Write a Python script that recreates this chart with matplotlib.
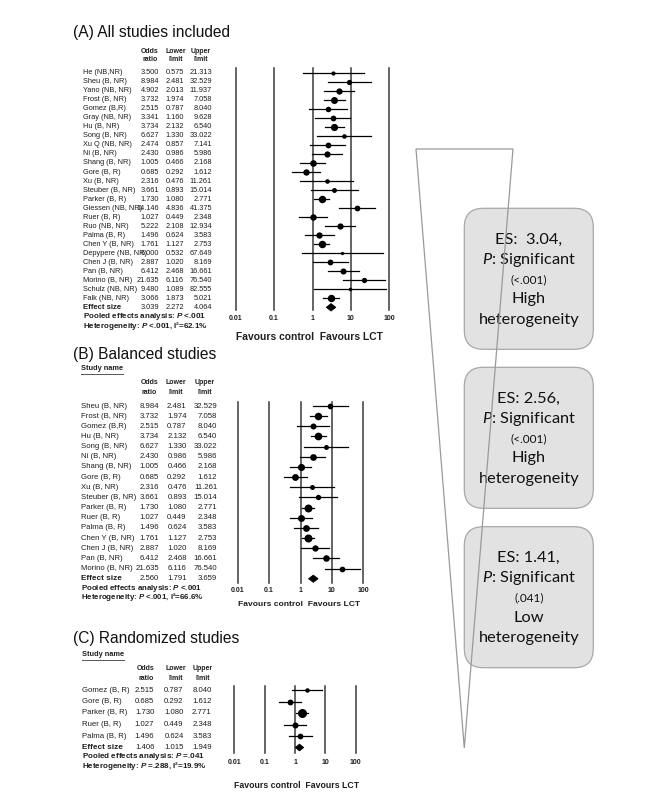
import numpy as np
import matplotlib
matplotlib.use("Agg")
import matplotlib.pyplot as plt
from matplotlib.patches import Polygon, FancyBboxPatch

plt.rcParams['font.family'] = ['Liberation Sans', 'DejaVu Sans']
plt.rcParams['mathtext.fontset'] = 'custom'
plt.rcParams['mathtext.rm'] = 'Liberation Sans'
plt.rcParams['mathtext.it'] = 'Lato:italic'
plt.rcParams['mathtext.bf'] = 'Liberation Sans:bold'
plt.rcParams['mathtext.bfit'] = 'Liberation Sans:italic:bold'

# ---------------- data ----------------
A_names = ["He (NB,NR)", "Sheu (B, NR)", "Yano (NB, NR)", "Frost (B, NR)", "Gomez (B,R)",
           "Gray (NB, NR)", "Hu (B, NR)", "Song (B, NR)", "Xu Q (NB, NR)", "Ni (B, NR)",
           "Shang (B, NR)", "Gore (B, R)", "Xu (B, NR)", "Steuber (B, NR)", "Parker (B, R)",
           "Giessen (NB, NR)", "Ruer (B, R)", "Ruo (NB, NR)", "Palma (B, R)", "Chen Y (B, NR)",
           "Depypere (NB, NR)", "Chen J (B, NR)", "Pan (B, NR)", "Morino (B, NR)",
           "Schulz (NB, NR)", "Falk (NB, NR)"]
A_or = [3.500, 8.984, 4.902, 3.732, 2.515, 3.341, 3.734, 6.627, 2.474, 2.430, 1.005, 0.685,
        2.316, 3.661, 1.730, 14.146, 1.027, 5.222, 1.496, 1.761, 6.000, 2.887, 6.412, 21.635,
        9.480, 3.066]
A_lo = [0.575, 2.481, 2.013, 1.974, 0.787, 1.160, 2.132, 1.330, 0.857, 0.986, 0.466, 0.292,
        0.476, 0.893, 1.080, 4.836, 0.449, 2.108, 0.624, 1.127, 0.532, 1.020, 2.468, 6.116,
        1.089, 1.873]
A_hi = [21.313, 32.529, 11.937, 7.058, 8.040, 9.628, 6.540, 33.022, 7.141, 5.986, 2.168, 1.612,
        11.261, 15.014, 2.771, 41.375, 2.348, 12.934, 3.583, 2.753, 67.649, 8.169, 16.661,
        76.540, 82.555, 5.021]
A_es = [3.039, 2.272, 4.064]
A_pool = "<.001"
A_het = ["<.001", "62.1%"]

B_names = ["Sheu (B, NR)", "Frost (B, NR)", "Gomez (B,R)", "Hu (B, NR)", "Song (B, NR)",
           "Ni (B, NR)", "Shang (B, NR)", "Gore (B, R)", "Xu (B, NR)", "Steuber (B, NR)",
           "Parker (B, R)", "Ruer (B, R)", "Palma (B, R)", "Chen Y (B, NR)", "Chen J (B, NR)",
           "Pan (B, NR)", "Morino (B, NR)"]
B_or = [8.984, 3.732, 2.515, 3.734, 6.627, 2.430, 1.005, 0.685, 2.316, 3.661, 1.730, 1.027,
        1.496, 1.761, 2.887, 6.412, 21.635]
B_lo = [2.481, 1.974, 0.787, 2.132, 1.330, 0.986, 0.466, 0.292, 0.476, 0.893, 1.080, 0.449,
        0.624, 1.127, 1.020, 2.468, 6.116]
B_hi = [32.529, 7.058, 8.040, 6.540, 33.022, 5.986, 2.168, 1.612, 11.261, 15.014, 2.771, 2.348,
        3.583, 2.753, 8.169, 16.661, 76.540]
B_es = [2.560, 1.791, 3.659]
B_pool = "<.001"
B_het = ["<.001", "66.6%"]

C_names = ["Gomez (B, R)", "Gore (B, R)", "Parker (B, R)", "Ruer (B, R)", "Palma (B, R)"]
C_or = [2.515, 0.685, 1.730, 1.027, 1.496]
C_lo = [0.787, 0.292, 1.080, 0.449, 0.624]
C_hi = [8.040, 1.612, 2.771, 2.348, 3.583]
C_es = [1.406, 1.015, 1.949]
C_pool = "=.041"
C_het = ["=.288", "19.9%"]

tick_vals = [0.01, 0.1, 1, 10, 100]
tick_labels = ["0.01", "0.1", "1", "10", "100"]

box_es = ["ES:  3.04,", "ES: 2.56,", "ES: 1.41,"]
box_p = ["(<.001)", "(<.001)", "(.041)"]
box_het = ["High", "High", "Low"]

# ---------------- helpers ----------------
W, H = 666, 799
fig = plt.figure(figsize=(W / 100, H / 100), dpi=100)
renderer = fig.canvas.get_renderer()
TXT = '#1e1e1e'


def fx(x):
    return x / W


def fy(y):
    return 1 - y / H


def re_weights(orv, lo, hi):
    y = np.log(orv)
    se = (np.log(hi) - np.log(lo)) / (2 * 1.959964)
    v = se ** 2
    w = 1 / v
    ybar = np.sum(w * y) / np.sum(w)
    Q = np.sum(w * (y - ybar) ** 2)
    C = np.sum(w) - np.sum(w ** 2) / np.sum(w)
    tau2 = max(0.0, (Q - (len(y) - 1)) / C)
    return 1 / (v + tau2)


ov = fig.add_axes([0, 0, 1, 1], zorder=0)
ov.set_xlim(0, W)
ov.set_ylim(H, 0)
ov.axis('off')


def panel(title, names, orv, lo, hi, es, pool, het, g):
    orv, lo, hi = map(np.asarray, (orv, lo, hi))
    n = len(names)
    fig.text(fx(73), fy(g['title_y']), title, fontsize=11.2, ha='left', va='center', color='#111111')
    if g.get('study_y'):
        t = fig.text(fx(g['name_x']), fy(g['study_y']), "Study name", fontsize=5.3,
                     fontweight='bold', ha='left', va='center', color=TXT)
        bb = t.get_window_extent(renderer)
        ov.plot([bb.x0, bb.x1], [H - bb.y0 + 1.2, H - bb.y0 + 1.2], color='#555555', lw=0.7)
    for cx, (h1, h2) in zip(g['hdr_cx'], [("Odds", "ratio"), ("Lower", "limit"), ("Upper", "limit")]):
        fig.text(fx(cx), fy(g['hdr_y'][0]), h1, fontsize=5.0, fontweight='bold', ha='center', va='center', color=TXT)
        fig.text(fx(cx), fy(g['hdr_y'][1]), h2, fontsize=5.0, fontweight='bold', ha='center', va='center', color=TXT)
    fs = g['row_fs']
    for i in range(n):
        y = g['r0'] + i * g['dr']
        fig.text(fx(g['name_x']), fy(y), names[i], fontsize=fs, ha='left', va='center', color=TXT)
        for xr, val in zip(g['col_right'], (orv[i], lo[i], hi[i])):
            fig.text(fx(xr), fy(y), f"{val:.3f}", fontsize=fs, ha='right', va='center', color=TXT)
    y = g['r0'] + n * g['dr']
    fig.text(fx(g['name_x']), fy(y), "Effect size", fontsize=fs + 0.3, fontweight='bold', ha='left', va='center', color=TXT)
    for xr, val in zip(g['col_right'], es):
        fig.text(fx(xr), fy(y), f"{val:.3f}", fontsize=fs, ha='right', va='center', color=TXT)
    fig.text(fx(g['name_x']), fy(g['pool_y']), r"Pooled effects analysis: $\mathbfit{P}$ " + pool,
             fontsize=g['sum_fs'], fontweight='bold', ha='left', va='center', color=TXT)
    fig.text(fx(g['name_x']), fy(g['het_y']),
             r"Heterogeneity: $\mathbfit{P}$ " + het[0] + ", I\u00b2=" + het[1],
             fontsize=g['sum_fs'], fontweight='bold', ha='left', va='center', color=TXT)

    # forest axes
    ax = fig.add_axes([fx(g['x001']), fy(g['line_bot']), fx(g['x100']) - fx(g['x001']),
                       (g['line_bot'] - g['line_top']) / H])
    ax.set_xscale('log')
    ax.set_xlim(0.01, 100)
    r = lambda ypx: (ypx - g['r0']) / g['dr']
    ax.set_ylim(r(g['line_bot']), r(g['line_top']))
    ax.axis('off')
    for v in tick_vals:
        ax.axvline(v, color='#3a3a3a', lw=1.1, clip_on=False, zorder=1)
    for v, lab in zip(tick_vals, tick_labels):
        ax.text(v, r(g['tick_y']), lab, fontsize=5.0, fontweight='bold', ha='center', va='center',
                color=TXT, clip_on=False)
    ax.text(0.01, r(g['fav_y']), "Favours control  Favours LCT", fontsize=g['fav_fs'],
            fontweight='bold', ha='left', va='center', color=TXT, clip_on=False)
    w = re_weights(orv, lo, hi)
    d = g['dmax'] * np.sqrt(w / w.max())
    for i in range(n):
        ax.plot([lo[i], hi[i]], [i, i], color='black', lw=0.9, clip_on=False, zorder=3)
        ax.plot(orv[i], i, 'o', ms=d[i] * 0.72, color='black', mec='black', mew=0, clip_on=False, zorder=4)
    h = g['dh']
    ax.add_patch(Polygon([(es[1], n), (es[0], n - h), (es[2], n), (es[0], n + h)], closed=True,
                         fc='black', ec='black', lw=0.5, clip_on=False, zorder=4))


panel("(A) All studies included", A_names, A_or, A_lo, A_hi, A_es, A_pool, A_het,
      dict(title_y=33, study_y=None, hdr_y=(51.7, 59.3), r0=72.8, dr=9.02, name_x=83,
           col_right=(159, 184, 212), hdr_cx=(150, 175.5, 201), pool_y=316.7, het_y=326,
           x001=235.7, x100=389.3, line_top=68.3, line_bot=310, tick_y=318.3, fav_y=336.7,
           row_fs=5.3, sum_fs=5.8, fav_fs=7.4, dmax=7.5, dh=0.42))

panel("(B) Balanced studies", B_names, B_or, B_lo, B_hi, B_es, B_pool, B_het,
      dict(title_y=355, study_y=369, hdr_y=(383, 392), r0=406, dr=10.16, name_x=80.7,
           col_right=(159, 186.7, 217.3), hdr_cx=(149.5, 176, 204.5), pool_y=588.3, het_y=596.9,
           x001=237.7, x100=363.3, line_top=401.7, line_bot=583.3, tick_y=590.7, fav_y=605,
           row_fs=5.6, sum_fs=5.7, fav_fs=6.1, dmax=8, dh=0.36))

panel("(C) Randomized studies", C_names, C_or, C_lo, C_hi, C_es, C_pool, C_het,
      dict(title_y=638, study_y=655, hdr_y=(669, 678), r0=690, dr=11.5, name_x=81.7,
           col_right=(154.3, 183.7, 211.7), hdr_cx=(146, 175.8, 203), pool_y=757, het_y=766,
           x001=234.3, x100=355.7, line_top=686, line_bot=753, tick_y=763, fav_y=786,
           row_fs=5.6, sum_fs=5.8, fav_fs=6.3, dmax=9, dh=0.3))

# ---------------- right side summary ----------------
box_tops = [208.3, 367.3, 526.7]
box_h = 141
box_x0, box_x1 = 464.3, 593.3
cx = (box_x0 + box_x1) / 2
for k, top in enumerate(box_tops):
    ov.add_patch(FancyBboxPatch((box_x0, top), box_x1 - box_x0, box_h,
                                boxstyle="round,pad=0,rounding_size=19",
                                fc='#e2e2e2', ec='#a8a8a8', lw=0.9, zorder=2))
    offs = [31.5, 51.5, 71.5, 91, 111.5]
    ov.text(cx, top + offs[0], box_es[k], fontsize=11.8, family='Lato', ha='center', va='center', color='#111111', zorder=3)
    ov.text(cx, top + offs[1], r"$P$: Significant", fontsize=11.8, family='Lato', ha='center', va='center', color='#111111', zorder=3)
    ov.text(cx, top + offs[2], box_p[k], fontsize=8.5, family='Lato', ha='center', va='center', color='#111111', zorder=3)
    ov.text(cx, top + offs[3], box_het[k], fontsize=11.8, family='Lato', ha='center', va='center', color='#111111', zorder=3)
    ov.text(cx, top + offs[4], "heterogeneity", fontsize=11.8, family='Lato', ha='center', va='center', color='#111111', zorder=3)

ov.add_patch(Polygon([(416, 149), (513, 149), (464.3, 748)], closed=True, fill=False,
                     ec='#9a9a9a', lw=0.9, zorder=5))

fig.savefig("out.png", dpi=100)
